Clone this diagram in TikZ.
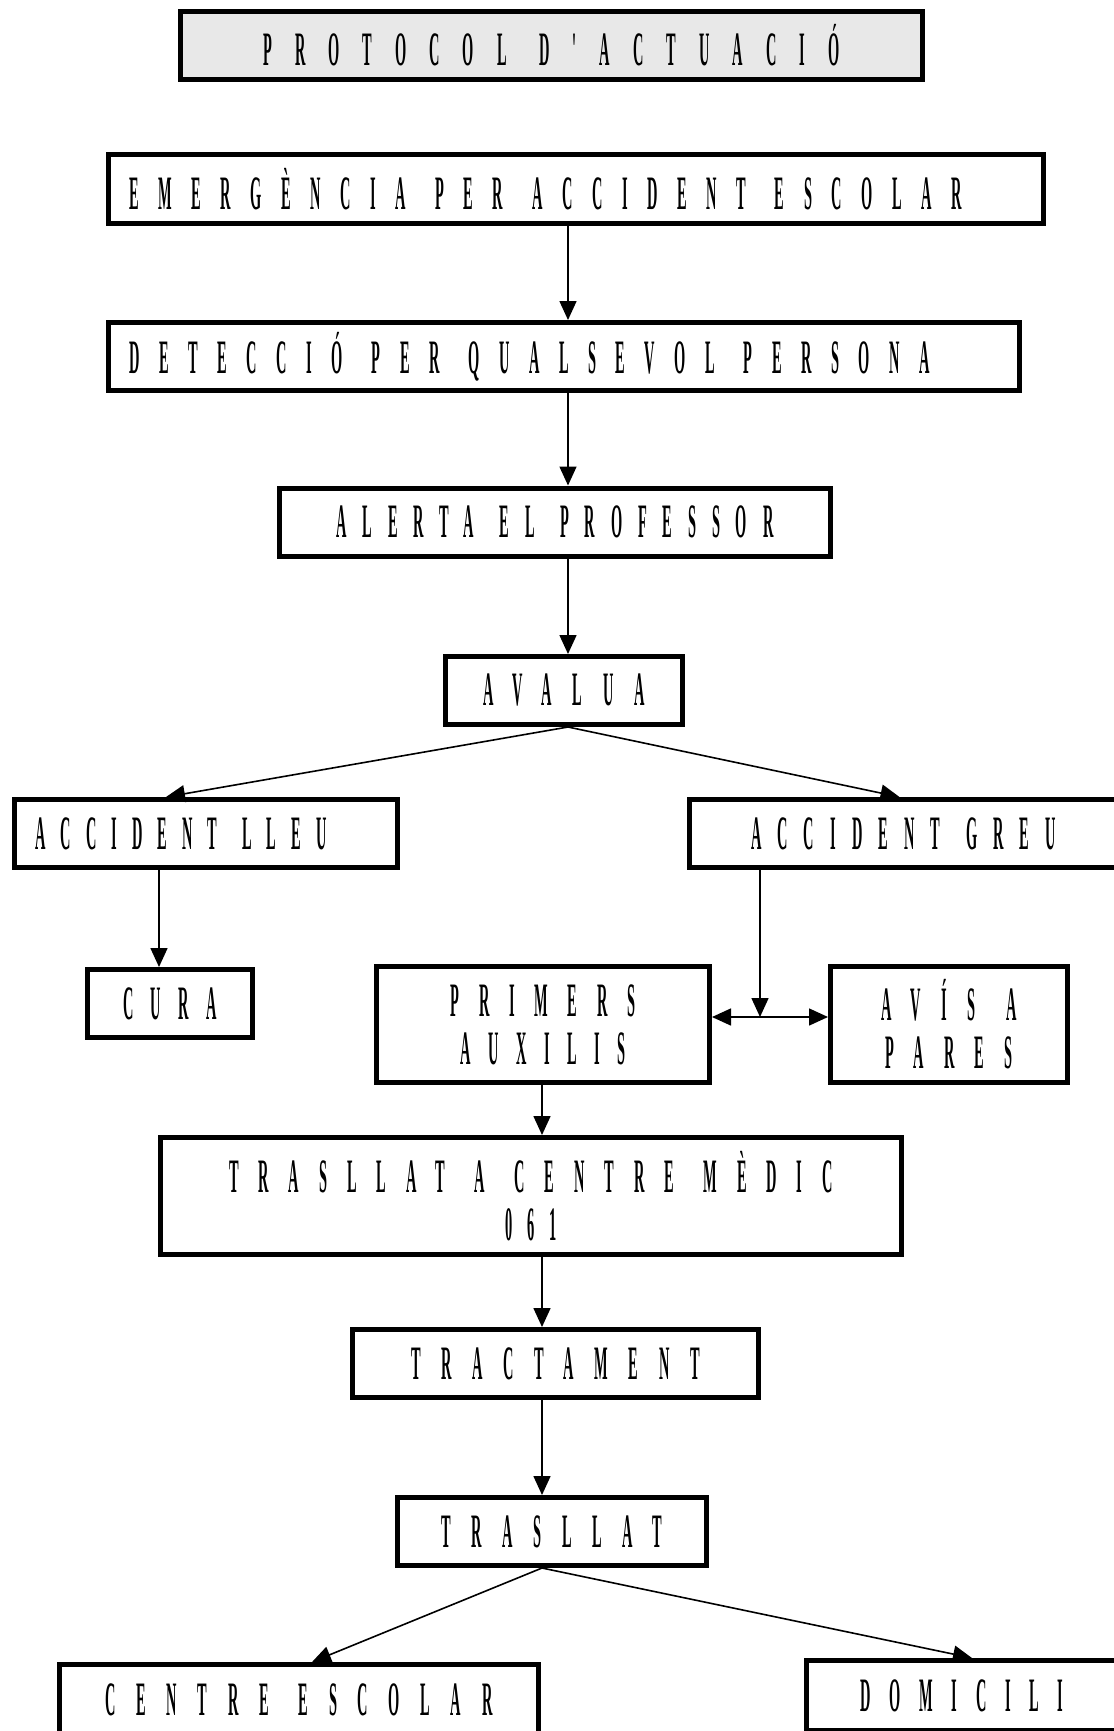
\documentclass[tikz,border=0pt]{standalone}
\usepackage{fontspec}
\usepackage{tikz}
\usetikzlibrary{arrows.meta}
\newfontfamily\boxfont{Liberation Serif}[FakeStretch=0.3,BoldFont={Liberation Serif Bold}]
\newcommand\lletracaixa{\boxfont\bfseries\fontsize{48}{48}\selectfont}
% letter spacing, and a word space a little wider than it
\newcommand\espaiat[1]{\addfontfeature{LetterSpace=#1}\spaceskip\dimexpr #1pt*47/100+10pt\relax}

\tikzset{
	caixa/.style={draw,line width=5pt,minimum height=68pt,inner ysep=0pt,font=\lletracaixa},
	ll/.style={execute at begin node={\espaiat{#1}}},
	caixaesq/.style={caixa,align=left,inner xsep=21pt},
	fletxa/.style={line width=1.6pt,-{Triangle[length=19pt,width=17pt]}},
	dobleflx/.style={line width=1.6pt,{Triangle[length=19pt,width=17pt]}-{Triangle[length=19pt,width=17pt]}}
}

\begin{document}
\begin{tikzpicture}[x=1pt,y=-1pt]
		\useasboundingbox (0,0) rectangle (1113,1731);
%		\draw[help lines,step=100] (0,0) grid (1113,1731);
		\path (551.5,45.5) coordinate (titol_c);
		\path (576,189) coordinate (emerg_c);
		\path (564,356.5) coordinate (detec_c);
		\path (555,522) coordinate (alerta_c);
		\path (564,690.5) coordinate (avalua_c);
		\path (206,833.5) coordinate (lleu_c);
		\path (903.5,833.5) coordinate (greu_c);
		\path (170,1003.5) coordinate (cura_c);
		\path (543,1024.5) coordinate (primers_c);
		\path (949,1024.5) coordinate (avis_c);
		\path (531,1196) coordinate (centre_c);
		\path (555.5,1363.5) coordinate (tract_c);
		\path (552,1531.5) coordinate (trasl_c);
		\path (299,1699.5) coordinate (escolar_c);
		\path (962,1695.5) coordinate (domicili_c);

		% lines the arrows run on
		\path (568,0) coordinate (eix_dalt);
		\path (542,0) coordinate (eix_baix);
		\path (159,0) coordinate (eix_cura);
		\path (760,1017) coordinate (junt);

		\node[caixa,ll=48,fill=black!9,minimum width=742pt] (titol) at (titol_c) {PROTOCOL D'ACTUACIÓ};
		\node[caixaesq,ll=40.7,minimum width=935pt,text width=893pt] (emerg) at (emerg_c) {EMERGÈNCIA PER ACCIDENT ESCOLAR};
		\node[caixaesq,ll=40.6,minimum width=911pt,text width=869pt] (detec) at (detec_c) {DETECCIÓ PER QUALSEVOL PERSONA};
		\node[caixa,ll=33,minimum width=551pt] (alerta) at (alerta_c) {ALERTA EL PROFESSOR};
		\node[caixa,ll=43,minimum width=237pt] (avalua) at (avalua_c) {AVALUA};
		\node[caixaesq,ll=31.3,minimum width=383pt,text width=341pt] (lleu) at (lleu_c) {ACCIDENT LLEU};
		\node[caixa,ll=33.5,minimum width=428pt] (greu) at (greu_c) {ACCIDENT GREU};
		\node[caixa,ll=36,minimum width=165pt] (cura) at (cura_c) {CURA};
		\node[caixa,ll=41,minimum width=333pt,minimum height=116pt,align=center] (primers) at (primers_c) {PRIMERS\\\espaiat{36.7}AUXILIS};
		\node[caixa,ll=43,minimum width=237pt,minimum height=116pt,align=center] (avis) at (avis_c) {AVÍS A\\\espaiat{42}PARES};
		\node[caixa,ll=41.5,minimum width=741pt,minimum height=117pt,align=center] (centre) at (centre_c) {TRASLLAT A CENTRE MÈDIC\\\espaiat{31}061};
		\node[caixa,ll=43,minimum width=406pt] (tract) at (tract_c) {TRACTAMENT};
		\node[caixa,ll=43,minimum width=309pt] (trasl) at (trasl_c) {TRASLLAT};
		\node[caixa,ll=43,minimum width=479pt,minimum height=70pt] (escolar) at (escolar_c) {CENTRE ESCOLAR};
		\node[caixa,ll=39,minimum width=311pt,minimum height=70pt] (domicili) at (domicili_c) {DOMICILI};

		\draw[fletxa] (emerg.south -| eix_dalt) -- (detec.north -| eix_dalt);
		\draw[fletxa] (detec.south -| eix_dalt) -- (alerta.north -| eix_dalt);
		\draw[fletxa] (alerta.south -| eix_dalt) -- (avalua.north -| eix_dalt);
		\draw[fletxa] (avalua.south -| eix_dalt) -- ([xshift=-40pt]lleu.north);
		\draw[fletxa] (avalua.south -| eix_dalt) -- ([xshift=-4pt]greu.north);
		\draw[fletxa] (lleu.south -| eix_cura) -- (cura.north -| eix_cura);
		\draw[fletxa] (greu.south -| junt) -- (junt);
		\draw[dobleflx] (primers.east |- junt) -- (avis.west |- junt);
		\draw[fletxa] (primers.south -| eix_baix) -- (centre.north -| eix_baix);
		\draw[fletxa] (centre.south -| eix_baix) -- (tract.north -| eix_baix);
		\draw[fletxa] (tract.south -| eix_baix) -- (trasl.north -| eix_baix);
		\draw[fletxa] (trasl.south -| eix_baix) -- ([xshift=13pt]escolar.north);
		\draw[fletxa] (trasl.south -| eix_baix) -- ([xshift=10pt]domicili.north);
	\end{tikzpicture}
\end{document}
